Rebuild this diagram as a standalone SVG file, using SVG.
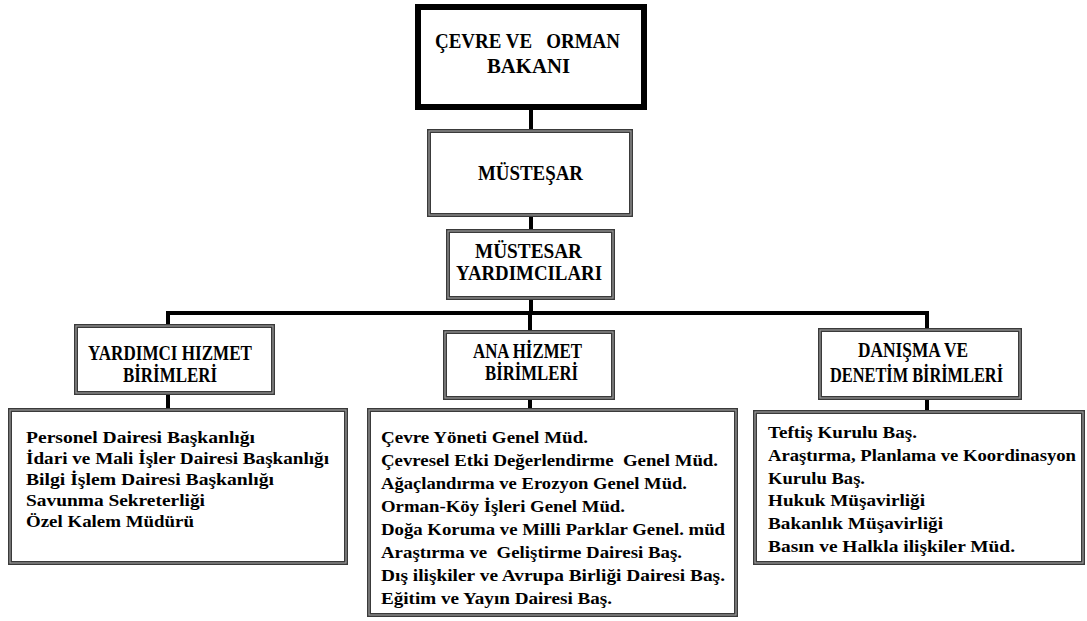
<svg xmlns="http://www.w3.org/2000/svg" width="1087" height="621" viewBox="0 0 1087 621">
<style>
.box{fill:#fff;stroke:#3a3a3a;stroke-width:4}
.inner{fill:none;stroke:#9a9a9a;stroke-width:1.2}
.top{fill:#fff;stroke:#000;stroke-width:6}
text{font-family:'Liberation Serif','Times New Roman',serif;font-weight:bold;fill:#000;white-space:pre}
.h{font-size:20px}
.l{font-size:17px}
.c{fill:none;stroke:#000;stroke-width:4}
</style>
<rect width="1087" height="621" fill="#fff"/>
<g id="connectors">
<path class="c" d="M531 110V131M531 215V231M531 298V313M168 313H927M168 311V326M530 313V332M927 311V330M168 393V410M530 398V410M927 398V412"/>
</g>
<g id="bakan">
<rect class="top" x="418" y="7" width="226" height="100"/>
<text class="h" x="435" y="48" textLength="185" lengthAdjust="spacingAndGlyphs">ÇEVRE VE   ORMAN</text>
<text class="h" x="487" y="73" textLength="83" lengthAdjust="spacingAndGlyphs">BAKANI</text>
</g>
<g id="mustesar">
<rect class="box" x="429" y="131" width="202" height="84"/>
<rect class="inner" x="429" y="131" width="202" height="84"/>
<text class="h" x="478" y="180" textLength="105" lengthAdjust="spacingAndGlyphs">MÜSTEŞAR</text>
</g>
<g id="yardimcilar">
<rect class="box" x="448" y="231" width="165" height="67"/>
<rect class="inner" x="448" y="231" width="165" height="67"/>
<text class="h" x="475" y="258" textLength="107" lengthAdjust="spacingAndGlyphs">MÜSTESAR</text>
<text class="h" x="456" y="280" textLength="146" lengthAdjust="spacingAndGlyphs">YARDIMCILARI</text>
</g>
<g id="yardimci-hizmet">
<rect class="box" x="76" y="326" width="197" height="67"/>
<rect class="inner" x="76" y="326" width="197" height="67"/>
<text class="h" x="88" y="360" textLength="164" lengthAdjust="spacingAndGlyphs">YARDIMCI HIZMET</text>
<text class="h" x="123" y="382" textLength="94" lengthAdjust="spacingAndGlyphs">BİRİMLERİ</text>
</g>
<g id="ana-hizmet">
<rect class="box" x="445" y="332" width="168" height="66"/>
<rect class="inner" x="445" y="332" width="168" height="66"/>
<text class="h" x="473" y="358" textLength="109" lengthAdjust="spacingAndGlyphs">ANA HİZMET</text>
<text class="h" x="485" y="380" textLength="93" lengthAdjust="spacingAndGlyphs">BİRİMLERİ</text>
</g>
<g id="danisma">
<rect class="box" x="820" y="330" width="200" height="68"/>
<rect class="inner" x="820" y="330" width="200" height="68"/>
<text class="h" x="858" y="357" textLength="110" lengthAdjust="spacingAndGlyphs">DANIŞMA VE</text>
<text class="h" x="830" y="382" textLength="173" lengthAdjust="spacingAndGlyphs">DENETİM BİRİMLERİ</text>
</g>
<g id="yardimci-list">
<rect class="box" x="10" y="410" width="336" height="153"/>
<rect class="inner" x="10" y="410" width="336" height="153"/>
<text class="l" x="26" y="443" textLength="229" lengthAdjust="spacingAndGlyphs">Personel Dairesi Başkanlığı</text>
<text class="l" x="26" y="464" textLength="303" lengthAdjust="spacingAndGlyphs">İdari ve Mali İşler Dairesi Başkanlığı</text>
<text class="l" x="26" y="485" textLength="248" lengthAdjust="spacingAndGlyphs">Bilgi İşlem Dairesi Başkanlığı</text>
<text class="l" x="26" y="506" textLength="179" lengthAdjust="spacingAndGlyphs">Savunma Sekreterliği</text>
<text class="l" x="26" y="527" textLength="168" lengthAdjust="spacingAndGlyphs">Özel Kalem Müdürü</text>
</g>
<g id="ana-list">
<rect class="box" x="369" y="410" width="367" height="205"/>
<rect class="inner" x="369" y="410" width="367" height="205"/>
<text class="l" x="381" y="443" textLength="207" lengthAdjust="spacingAndGlyphs">Çevre Yöneti Genel Müd.</text>
<text class="l" x="381" y="466" textLength="337" lengthAdjust="spacingAndGlyphs">Çevresel Etki Değerlendirme  Genel Müd.</text>
<text class="l" x="381" y="489" textLength="306" lengthAdjust="spacingAndGlyphs">Ağaçlandırma ve Erozyon Genel Müd.</text>
<text class="l" x="381" y="512" textLength="244" lengthAdjust="spacingAndGlyphs">Orman-Köy İşleri Genel Müd.</text>
<text class="l" x="381" y="535" textLength="344" lengthAdjust="spacingAndGlyphs">Doğa Koruma ve Milli Parklar Genel. müd</text>
<text class="l" x="381" y="558" textLength="301" lengthAdjust="spacingAndGlyphs">Araştırma ve  Geliştirme Dairesi Baş.</text>
<text class="l" x="381" y="581" textLength="344" lengthAdjust="spacingAndGlyphs">Dış ilişkiler ve Avrupa Birliği Dairesi Baş.</text>
<text class="l" x="381" y="604" textLength="231" lengthAdjust="spacingAndGlyphs">Eğitim ve Yayın Dairesi Baş.</text>
</g>
<g id="danisma-list">
<rect class="box" x="755" y="412" width="328" height="151"/>
<rect class="inner" x="755" y="412" width="328" height="151"/>
<text class="l" x="768" y="438" textLength="149" lengthAdjust="spacingAndGlyphs">Teftiş Kurulu Baş.</text>
<text class="l" x="768" y="461" textLength="308" lengthAdjust="spacingAndGlyphs">Araştırma, Planlama ve Koordinasyon</text>
<text class="l" x="768" y="484" textLength="97" lengthAdjust="spacingAndGlyphs">Kurulu Baş.</text>
<text class="l" x="768" y="506" textLength="157" lengthAdjust="spacingAndGlyphs">Hukuk Müşavirliği</text>
<text class="l" x="768" y="529" textLength="175" lengthAdjust="spacingAndGlyphs">Bakanlık Müşavirliği</text>
<text class="l" x="768" y="552" textLength="247" lengthAdjust="spacingAndGlyphs">Basın ve Halkla ilişkiler Müd.</text>
</g>
</svg>
